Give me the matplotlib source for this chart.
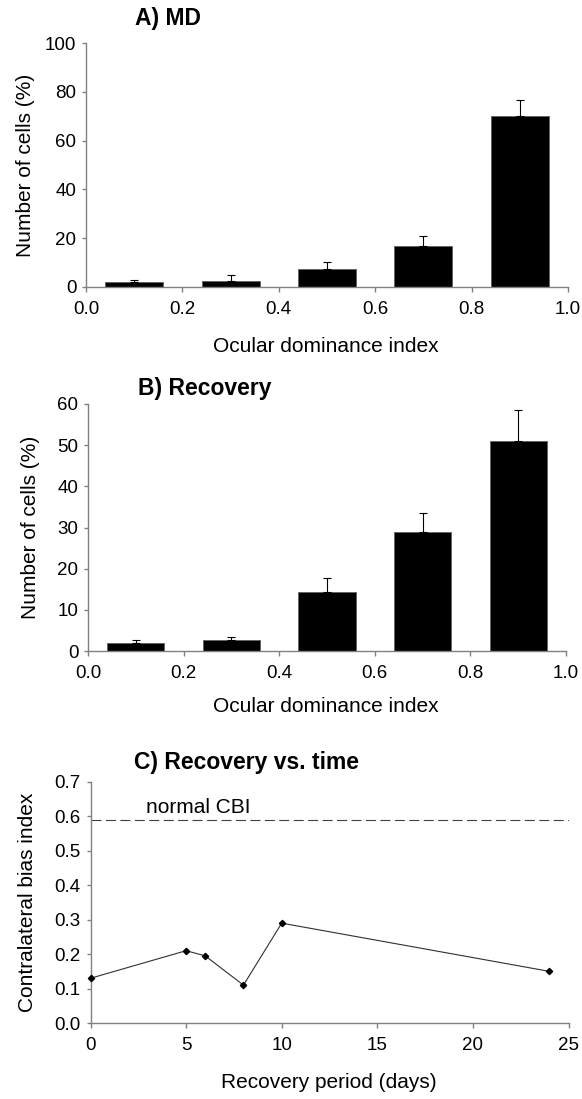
import matplotlib
matplotlib.use("Agg")
import matplotlib.pyplot as plt

plt.rcParams['font.family'] = ['Liberation Sans', 'DejaVu Sans']

# Data
odi_centers = [0.1, 0.3, 0.5, 0.7, 0.9]
md_values = [2.0, 2.6, 7.4, 16.7, 69.9]
md_err = [1.0, 2.4, 2.7, 4.4, 6.8]
rec_values = [1.9, 2.75, 14.4, 28.9, 51.0]
rec_err = [0.85, 0.75, 3.4, 4.6, 7.5]
days = [0, 5, 6, 8, 10, 24]
cbi = [0.13, 0.21, 0.195, 0.11, 0.29, 0.15]
normal_cbi = 0.59

W, H = 582, 1099
fig = plt.figure(figsize=(W / 100, H / 100), dpi=100)

def ax_at(l, r, t, b):
    return fig.add_axes([l / W, 1 - b / H, (r - l) / W, (b - t) / H])

spine_col = '#808080'
TICK_FS = 13.5
LAB_FS = 15
YLAB_FS = 15
TITLE_FS = 16.5

def style(ax):
    for s in ['top', 'right']:
        ax.spines[s].set_visible(False)
    for s in ['left', 'bottom']:
        ax.spines[s].set_color(spine_col)
        ax.spines[s].set_linewidth(1.0)
    ax.tick_params(direction='out', color=spine_col, labelsize=TICK_FS, width=1.0)
    ax.tick_params(axis='x', length=3.6, pad=6.5)
    ax.tick_params(axis='y', length=3.0, pad=4)

def ylab(x, y, s):
    fig.text(x / W, 1 - y / H, s, rotation=90, ha='center', va='center', fontsize=YLAB_FS)

# Panel A
axA = ax_at(86, 568, 43, 287)
axA.bar(odi_centers, md_values, width=0.12, color='black', edgecolor='#606060',
        linewidth=0.6, zorder=2)
axA.errorbar(odi_centers, md_values, yerr=[[0] * 5, md_err], fmt='none',
             ecolor='black', elinewidth=0.8, capsize=3, capthick=0.8, zorder=3)
axA.set_xlim(0, 1.0)
axA.set_ylim(0, 100)
axA.set_xticks([0.0, 0.2, 0.4, 0.6, 0.8, 1.0])
axA.set_xticklabels(['0.0', '0.2', '0.4', '0.6', '0.8', '1.0'])
axA.set_yticks([0, 20, 40, 60, 80, 100])
style(axA)
ylab(26, 165, 'Number of cells (%)')
fig.text(326 / W, 1 - 347 / H, 'Ocular dominance index', ha='center', va='center', fontsize=LAB_FS)
fig.text(168 / W, 1 - 19 / H, 'A) MD', ha='center', va='center', fontsize=TITLE_FS, fontweight='bold')

# Panel B
axB = ax_at(88, 566, 404, 651)
axB.bar(odi_centers, rec_values, width=0.12, color='black', edgecolor='#606060',
        linewidth=0.6, zorder=2)
axB.errorbar(odi_centers, rec_values, yerr=[[0] * 5, rec_err], fmt='none',
             ecolor='black', elinewidth=0.8, capsize=3, capthick=0.8, zorder=3)
axB.set_xlim(0, 1.0)
axB.set_ylim(0, 60)
axB.set_xticks([0.0, 0.2, 0.4, 0.6, 0.8, 1.0])
axB.set_xticklabels(['0.0', '0.2', '0.4', '0.6', '0.8', '1.0'])
axB.set_yticks([0, 10, 20, 30, 40, 50, 60])
style(axB)
ylab(31, 527, 'Number of cells (%)')
fig.text(326 / W, 1 - 707 / H, 'Ocular dominance index', ha='center', va='center', fontsize=LAB_FS)
fig.text(205 / W, 1 - 389 / H, 'B) Recovery', ha='center', va='center', fontsize=TITLE_FS, fontweight='bold')

# Panel C
axC = ax_at(90.5, 568.5, 782, 1023)
axC.plot(days, cbi, color='#303030', linewidth=0.8, marker='D', markersize=3.2,
         markerfacecolor='black', markeredgecolor='black', zorder=3, clip_on=False)
axC.axhline(normal_cbi, color='#404040', linewidth=0.8, dashes=(9, 4))
axC.text(2.9, 0.625, 'normal CBI', fontsize=LAB_FS, va='center', ha='left')
axC.set_xlim(0, 25)
axC.set_ylim(0, 0.7)
axC.set_xticks([0, 5, 10, 15, 20, 25])
axC.set_yticks([0.0, 0.1, 0.2, 0.3, 0.4, 0.5, 0.6, 0.7])
axC.set_yticklabels(['0.0', '0.1', '0.2', '0.3', '0.4', '0.5', '0.6', '0.7'])
style(axC)
ylab(28, 902, 'Contralateral bias index')
fig.text(329 / W, 1 - 1082 / H, 'Recovery period (days)', ha='center', va='center', fontsize=LAB_FS)
fig.text(246 / W, 1 - 763 / H, 'C) Recovery vs. time', ha='center', va='center', fontsize=TITLE_FS, fontweight='bold')

fig.savefig('out.png', dpi=100, facecolor='white')
